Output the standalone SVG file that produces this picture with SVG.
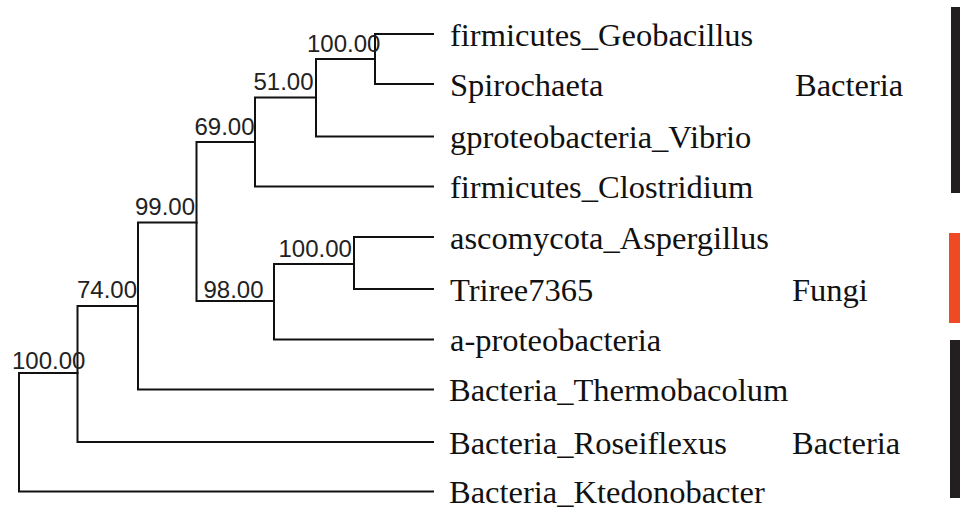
<svg xmlns="http://www.w3.org/2000/svg" width="960" height="510" viewBox="0 0 960 510">
<style>
.br{fill:none;stroke:#111;stroke-width:2;stroke-linecap:square;stroke-linejoin:miter}
.leaf{font-family:"Liberation Serif","Times New Roman",serif;font-size:32.5px;fill:#111}
.sup{font-family:"Liberation Sans",Arial,sans-serif;font-size:24px;fill:#222}
.grp{font-family:"Liberation Serif","Times New Roman",serif;font-size:32.5px;fill:#111}
</style>
<rect width="960" height="510" fill="#fff"/>
<g id="connectors">
<path class="br" d="M375 34V84M375 34H433M375 84H433"/>
<path class="br" d="M316 59V136.5M316 59H375M316 136.5H433"/>
<path class="br" d="M255 97.5V186.5M255 97.5H316M255 186.5H433"/>
<path class="br" d="M354 237V289M354 237H433M354 289H433"/>
<path class="br" d="M274 264V339.5M274 264H354M274 339.5H433"/>
<path class="br" d="M196.5 142V301M196.5 142H255M196.5 301H274"/>
<path class="br" d="M138 222.5V389.5M138 222.5H196.5M138 389.5H433"/>
<path class="br" d="M77.5 306V442M77.5 306H138M77.5 442H433"/>
<path class="br" d="M19 373V491.5M19 373H77.5M19 491.5H433"/>
</g>
<g id="leaf-geobacillus"><text class="leaf" x="450" y="45.5">firmicutes_Geobacillus</text></g>
<g id="leaf-spirochaeta"><text class="leaf" x="450" y="95.5">Spirochaeta</text></g>
<g id="leaf-vibrio"><text class="leaf" x="450" y="148">gproteobacteria_Vibrio</text></g>
<g id="leaf-clostridium"><text class="leaf" x="450" y="198">firmicutes_Clostridium</text></g>
<g id="leaf-aspergillus"><text class="leaf" x="450" y="248.5">ascomycota_Aspergillus</text></g>
<g id="leaf-triree"><text class="leaf" x="450" y="300.5">Triree7365</text></g>
<g id="leaf-aproteo"><text class="leaf" x="450" y="351">a-proteobacteria</text></g>
<g id="leaf-thermobacolum"><text class="leaf" x="449" y="401">Bacteria_Thermobacolum</text></g>
<g id="leaf-roseiflexus"><text class="leaf" x="449" y="453.5">Bacteria_Roseiflexus</text></g>
<g id="leaf-ktedonobacter"><text class="leaf" x="449" y="503">Bacteria_Ktedonobacter</text></g>
<g id="node-n1"><text class="sup" x="307" y="51.5">100.00</text></g>
<g id="node-n2"><text class="sup" x="253.5" y="90">51.00</text></g>
<g id="node-n3"><text class="sup" x="194.5" y="135">69.00</text></g>
<g id="node-n4"><text class="sup" x="278.5" y="256.5">100.00</text></g>
<g id="node-n5"><text class="sup" x="203.5" y="298">98.00</text></g>
<g id="node-n6"><text class="sup" x="135" y="215">99.00</text></g>
<g id="node-n7"><text class="sup" x="77" y="298">74.00</text></g>
<g id="node-n8"><text class="sup" x="12" y="369">100.00</text></g>
<g id="clade-bacteria-top"><text class="grp" x="795" y="95.5">Bacteria</text><rect x="951" y="7" width="12" height="186" fill="#231f20"/></g>
<g id="clade-fungi"><text class="grp" x="792" y="300.5">Fungi</text><rect x="949" y="233" width="14" height="90" fill="#ef4a23"/></g>
<g id="clade-bacteria-bottom"><text class="grp" x="792" y="453.5">Bacteria</text><rect x="950" y="340" width="13" height="158" fill="#231f20"/></g>
</svg>
